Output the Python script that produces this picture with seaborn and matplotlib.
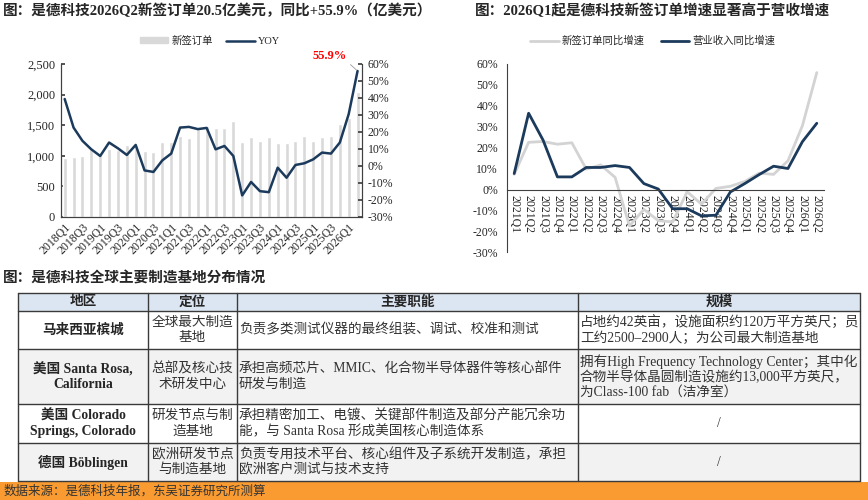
import numpy as np
import pandas as pd
import matplotlib
matplotlib.use("Agg")
import matplotlib.pyplot as plt
import seaborn as sns
from matplotlib.patches import Rectangle
from matplotlib.lines import Line2D
from matplotlib.ticker import FuncFormatter

sns.set_theme(style="white")
plt.rcParams["font.family"] = ["Liberation Serif", "Noto Sans CJK SC"]
plt.rcParams["axes.unicode_minus"] = False

# ---- data: left chart (新签订单 + YOY)
quarters = [f"{y}Q{q}" for y in range(2018, 2027) for q in range(1, 5)][:34]
orders = [961, 977, 994, 1112, 1018, 1112, 1097, 1184, 1144, 1084, 1059, 1222,
          1228, 1320, 1292, 1477, 1488, 1450, 1450, 1564, 1222, 1314, 1238, 1314,
          1211, 1211, 1243, 1330, 1249, 1303, 1330, 1526, 1625, 2050]
orders_yoy = [39.4, 22.6, 14.8, 9.8, 5.9, 13.8, 10.4, 6.5, 12.4, -2.6, -3.5, 3.3,
              7.3, 22.6, 23.0, 21.7, 22.4, 9.8, 11.8, 5.9, -17.3, -9.4, -14.8, -15.4,
              -1.0, -6.9, 0.6, 1.6, 3.9, 7.9, 7.3, 13.8, 30.5, 55.9]

# ---- data: right chart
quarters_r = quarters[12:]
order_growth = orders_yoy[12:]
revenue_growth = [7.7, 36.5, 23.7, 6.1, 6.1, 10.6, 10.6, 11.5, 10.6, 2.9, 0.3,
                  -9.1, -9.1, -12.5, -12.2, -1.1, 2.9, 7.2, 11.2, 10.1, 22.9, 31.7]

# ---- data: table
table_header = ["地区", "定位", "主要职能", "规模"]
table_region = ["马来西亚槟城", "美国 Santa Rosa,\nCalifornia",
                "美国 Colorado\nSprings, Colorado", "德国 Böblingen"]
table_role = ["全球最大制造\n基地", "总部及核心技\n术研发中心", "研发节点与制\n造基地", "欧洲研发节点\n与制造基地"]
table_function = ["负责多类测试仪器的最终组装、调试、校准和测试",
                  "承担高频芯片、MMIC、化合物半导体器件等核心部件\n研发与制造",
                  "承担精密加工、电镀、关键部件制造及部分产能冗余功\n能，与 Santa Rosa 形成美国核心制造体系",
                  "负责专用技术平台、核心组件及子系统开发制造，承担\n欧洲客户测试与技术支持"]
table_scale = ["占地约42英亩，设施面积约120万平方英尺；员\n工约2500–2900人；为公司最大制造基地",
               "拥有High Frequency Technology Center；其中化\n合物半导体晶圆制造设施约13,000平方英尺，\n为Class-100 fab（洁净室）",
               "/", "/"]

NAVY = "#1b3a5c"
BAR_GRAY = "#d9d9d9"
LINE_GRAY = "#d3d3d3"
SPINE = "#404040"

W, H = 868, 500
fig = plt.figure(figsize=(W / 100, H / 100), dpi=100)


def box(x0, y0, x1, y1):
    return [x0 / W, 1 - y1 / H, (x1 - x0) / W, (y1 - y0) / H]


bg = fig.add_axes([0, 0, 1, 1])
bg.set_xlim(0, W)
bg.set_ylim(H, 0)
bg.axis("off")

# titles
bg.text(3, 11, "图：是德科技2026Q2新签订单20.5亿美元，同比+55.9%（亿美元）",
        fontsize=10.5, fontweight="bold", va="center", ha="left")
bg.text(475, 11, "图：2026Q1起是德科技新签订单增速显著高于营收增速",
        fontsize=10.5, fontweight="bold", va="center", ha="left")
bg.text(3, 279, "图：是德科技全球主要制造基地分布情况",
        fontsize=10.5, fontweight="bold", va="center", ha="left")

# ---------------- left chart
ax1 = fig.add_axes(box(60.7, 64, 362, 217))
df1 = pd.DataFrame({"季度": quarters, "新签订单": orders, "YOY": orders_yoy})
sns.barplot(data=df1, x="季度", y="新签订单", color=BAR_GRAY, saturation=1,
            width=0.45, ax=ax1)
ax1.set_ylim(0, 2500)
ax1.set_yticks(range(0, 2501, 500))
ax1.yaxis.set_major_formatter(FuncFormatter(lambda v, p: f"{v:,.0f}"))
ax1.set_xlim(-0.45, 33.5)
ax1.set_xticks(range(0, 34, 2))
ax1.set_xticklabels(quarters[::2], rotation=45, ha="right", rotation_mode="anchor", fontsize=8.5)
ax1.set_xlabel("")
ax1.set_ylabel("")
ax1.tick_params(axis="y", direction="in", length=3, labelsize=9, color=SPINE, pad=4)
ax1.tick_params(axis="x", length=0, pad=3)

ax1b = ax1.twinx()
sns.lineplot(x=np.arange(len(orders_yoy)), y=orders_yoy, color=NAVY, linewidth=1.8, ax=ax1b)
ax1b.set_ylim(-30, 60)
ax1b.set_yticks(range(-30, 61, 10))
ax1b.yaxis.set_major_formatter(FuncFormatter(lambda v, p: f"{v:.0f}%"))
ax1b.tick_params(axis="y", direction="in", length=3, labelsize=8.5, color=SPINE, pad=4)
ax1b.set_ylabel("")
for a in (ax1, ax1b):
    a.spines["top"].set_visible(False)
    for s in ("left", "right", "bottom"):
        a.spines[s].set_color(SPINE)
        a.spines[s].set_linewidth(0.8)

ax1b.annotate("55.9%", xy=(33, 55.9), xytext=(29.9, 64.9), textcoords="data",
              color="#ff0000", fontweight="bold", fontsize=9, ha="center", va="center",
              annotation_clip=False,
              arrowprops=dict(arrowstyle="-", color="#9a9a9a", lw=0.6,
                              shrinkA=0, shrinkB=1, relpos=(1.0, 0.0)))

fig.legend([Rectangle((0, 0), 1, 1, color=BAR_GRAY), Line2D([], [], color=NAVY, lw=1.8)],
           ["新签订单", "YOY"], loc="center", bbox_to_anchor=(210 / W, 1 - 41 / H),
           ncol=2, frameon=False, fontsize=7.5, handlelength=2.7, handleheight=0.45,
           columnspacing=1.3, handletextpad=0.3)

# ---------------- right chart
ax2 = fig.add_axes(box(507, 64, 824, 252.5))
df2 = pd.DataFrame({"pos": np.arange(len(quarters_r)),
                    "新签订单同比增速": order_growth,
                    "营业收入同比增速": revenue_growth})
long = df2.melt(id_vars="pos", var_name="指标", value_name="增速")
sns.lineplot(data=long, x="pos", y="增速", hue="指标",
             hue_order=["新签订单同比增速", "营业收入同比增速"],
             palette={"新签订单同比增速": LINE_GRAY, "营业收入同比增速": NAVY},
             linewidth=2, legend=False, ax=ax2)
ax2.spines["top"].set_visible(False)
ax2.spines["right"].set_visible(False)
ax2.spines["bottom"].set_position(("data", 0))
for s in ("left", "bottom"):
    ax2.spines[s].set_color(SPINE)
    ax2.spines[s].set_linewidth(0.8)
ax2.set_ylim(-30, 60)
ax2.set_yticks(range(-30, 61, 10))
ax2.yaxis.set_major_formatter(FuncFormatter(lambda v, p: f"{v:.0f}%"))
ax2.set_xlim(-0.5, len(quarters_r) - 0.5)
ax2.set_xticks(range(len(quarters_r)))
ax2.set_xticks(np.arange(-0.5, len(quarters_r), 1), minor=True)
ax2.set_xticklabels(quarters_r, fontsize=8.5)
ax2.tick_params(axis="x", which="major", length=0, pad=4, labelrotation=-90)
ax2.tick_params(axis="x", which="minor", length=3, direction="out", color=SPINE)
ax2.tick_params(axis="y", direction="out", length=3, labelsize=8.5, color=SPINE)
for lab in ax2.get_xticklabels():
    lab.set_va("top")
    lab.set_ha("center")
ax2.set_xlabel("")
ax2.set_ylabel("")

fig.legend([Line2D([], [], color=LINE_GRAY, lw=2), Line2D([], [], color=NAVY, lw=2)],
           ["新签订单同比增速", "营业收入同比增速"], loc="center",
           bbox_to_anchor=(653 / W, 1 - 41 / H), ncol=2, frameon=False, fontsize=7.5,
           handlelength=2.7, columnspacing=1.6, handletextpad=0.3)

# ---------------- table
col_edges = [18, 148, 237, 578, 860]
row_edges = [293, 311, 349, 404, 443, 481]
row_fills = ["#dce6f2", "white", "#f2f2f2", "white", "#f2f2f2"]

for r, fill in enumerate(row_fills):
    bg.add_patch(Rectangle((col_edges[0], row_edges[r]), col_edges[-1] - col_edges[0],
                           row_edges[r + 1] - row_edges[r], facecolor=fill, edgecolor="none"))
for y in row_edges:
    bg.plot([col_edges[0], col_edges[-1]], [y, y], color="#3a3a3a", lw=1.0)
for x in col_edges:
    bg.plot([x, x], [row_edges[0], row_edges[-1]], color="#3a3a3a", lw=1.0)

FS = 9.8
for c, name in enumerate(table_header):
    bg.text((col_edges[c] + col_edges[c + 1]) / 2, (row_edges[0] + row_edges[1]) / 2,
            name, fontsize=FS, fontweight="bold", ha="center", va="center")

for r in range(len(table_region)):
    yc = (row_edges[r + 1] + row_edges[r + 2]) / 2
    bg.text((col_edges[0] + col_edges[1]) / 2, yc, table_region[r], fontsize=FS,
            fontweight="bold", ha="center", va="center", linespacing=1.2)
    bg.text((col_edges[1] + col_edges[2]) / 2, yc, table_role[r], fontsize=FS,
            ha="center", va="center", linespacing=1.25, color="#333333")
    bg.text(col_edges[2] + 2, yc, table_function[r], fontsize=FS,
            ha="left", va="center", linespacing=1.25, color="#333333")
    if table_scale[r] == "/":
        bg.text((col_edges[3] + col_edges[4]) / 2, yc, table_scale[r], fontsize=FS,
                ha="center", va="center", color="#333333")
    else:
        bg.text(col_edges[3] + 2, yc, table_scale[r], fontsize=FS,
                ha="left", va="center", linespacing=1.2, color="#333333")

# footer band
bg.add_patch(Rectangle((0, 481.5), W, 18.5, facecolor="#f99b30", edgecolor="none"))
bg.text(4, 491, "数据来源：是德科技年报，东吴证券研究所测算", fontsize=9,
        ha="left", va="center", color="#333333")

fig.savefig("out.png", dpi=100)
